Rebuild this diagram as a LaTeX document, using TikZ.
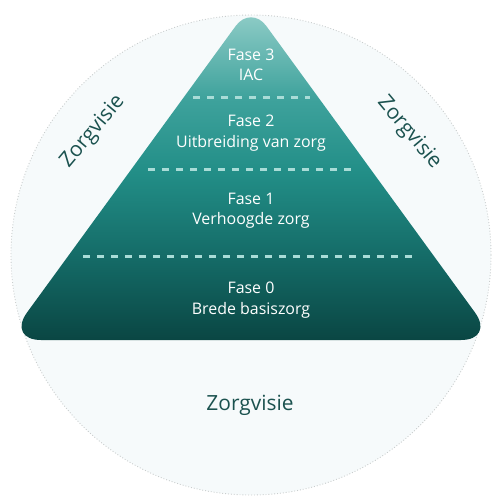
\documentclass[tikz,border=0pt]{standalone}
\usepackage{fontspec}
\setmainfont{Open Sans}

\definecolor{zorgdark}{HTML}{1B524F}
\definecolor{dashteal}{HTML}{A9DCD7}
\definecolor{circfill}{HTML}{F6FAFB}
\definecolor{circline}{HTML}{C9CDCD}

% bottom 25bp = base, top 75bp = apex
\pgfdeclareverticalshading{pyramidshade}{100bp}{%
	color(0bp)=(rgb,255:red,10;green,70;blue,67);
	color(25bp)=(rgb,255:red,10;green,70;blue,67);
	color(37bp)=(rgb,255:red,20;green,106;blue,102);
	color(50bp)=(rgb,255:red,34;green,142;blue,135);
	color(61bp)=(rgb,255:red,62;green,162;blue,156);
	color(75bp)=(rgb,255:red,150;green,208;blue,203);
	color(100bp)=(rgb,255:red,150;green,208;blue,203)}

\begin{document}
\begin{tikzpicture}[x=1bp, y=-1bp]
	\tikzstyle{every node}=[font=\fontsize{16}{20.5}\selectfont, align=center]
	\useasboundingbox (0,0) rectangle (500,503);

	%circle
	\draw[circline, fill=circfill, dotted, line width=0.9bp] (251,255) circle (240);

	%pyramid
	\shade[shading=pyramidshade]
		(251,340) [rounded corners=34bp] -- (7,340) [rounded corners=26bp] -- (251,5)
		[rounded corners=34bp] -- (495,340) [sharp corners] -- cycle;

	%dashes
	\foreach \y/\xl/\xr in {98/193/310, 170/148/356, 256/83/418}
		\draw[dashteal, line width=3bp, dash pattern=on 7bp off 7bp] (\xl,\y) -- (\xr,\y);

	%phases
	\node[white] (fase3) at (251,65) {Fase 3\\IAC};
	\node[white] (fase2) at (251,133) {Fase 2\\Uitbreiding van zorg};
	\node[white] (fase1) at (251,211) {Fase 1\\Verhoogde zorg};
	\node[white] (fase0) at (251,300) {Fase 0\\Brede basiszorg};

	%labels
	\node[zorgdark, font=\fontsize{21}{24}\selectfont] (visieb) at (250,405) {Zorgvisie};
	\node[zorgdark, font=\fontsize{21}{24}\selectfont, rotate=50] (visiel) at (93,132) {Zorgvisie};
	\node[zorgdark, font=\fontsize{21}{24}\selectfont, rotate=-50] (visier) at (409,133) {Zorgvisie};
\end{tikzpicture}
\end{document}
